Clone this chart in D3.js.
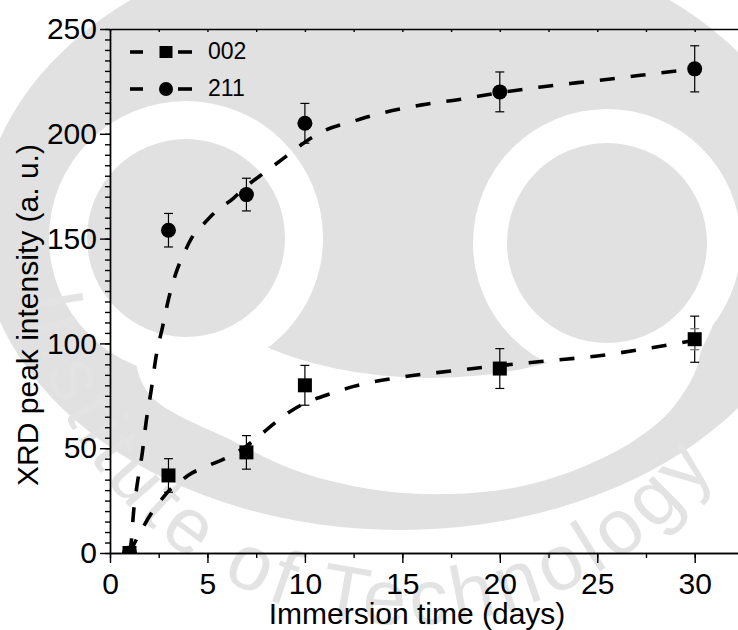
<!DOCTYPE html>
<html lang="en">
<head>
<meta charset="utf-8">
<title>XRD peak intensity vs immersion time</title>
<script src="https://d3js.org/d3.v7.min.js"></script>
<style>
  body { margin: 0; background: #fff; }
  svg { display: block; font-family: "Liberation Sans", Arial, Helvetica, sans-serif; }
</style>
</head>
<body>
<script>
// measured points
var days = [1, 3, 7, 10, 20, 30];
var peak002 = [0, 37, 48, 80, 88, 102];
var err002 = [0, 8, 8, 9.5, 9.5, 11];
var innerErr002 = [0, 0, 0, 0, 0, 5];
var peak211 = [0, 154, 171, 205, 220, 231];
var err211 = [0, 8, 7.8, 9.5, 9.5, 11];

// fitted (dashed) curves
var fit002x = [1, 1.5, 2.1, 2.6, 3.0, 3.4, 4.0, 5.0, 6.0, 7.0, 8.0, 9.0, 10.0, 11.0, 12.5, 15, 17.5, 20, 22.5, 25, 27.5, 30];
var fit002y = [0, 9, 18.6, 25, 29.5, 32.5, 37, 41.5, 45.5, 51, 58.5, 66, 71.5, 75, 79.5, 84, 86.8, 89.4, 91.7, 94, 97.5, 101.5];
var fit211x = [1, 1.1, 1.2, 1.4, 1.66, 1.86, 2.12, 2.36, 2.7, 3.0, 3.4, 3.8, 4.3, 4.8, 5.5, 6.3, 7.0, 8.0, 9.0, 10.0, 11.0, 12.5, 14, 16, 18, 20, 22, 24, 26, 28, 30];
var fit211y = [0, 6, 18.6, 33, 48, 63, 78, 93.5, 108, 121, 134, 143, 152, 157, 163.5, 169, 175, 182, 189, 196, 201.5, 206, 210, 213.8, 216.5, 219.6, 222.2, 224.4, 226.5, 228.8, 231];

var xTicks = [0, 5, 10, 15, 20, 25, 30];
var yTicks = [0, 50, 100, 150, 200, 250];
var seriesNames = ["002", "211"];

var W = 738, H = 630;
var padLeft = 110, padTop = 29, plotBottom = 553, plotRight = 738;

var svg = d3.select("body").append("svg")
    .attr("width", W)
    .attr("height", H);

// faint watermark logo behind the plot
var wm = svg.append("g").attr("class", "watermark");
var grey = "#e1e1e1";
wm.append("ellipse").attr("cx", 400).attr("cy", 230).attr("rx", 420).attr("ry", 300).attr("fill", grey);
// white crescent under the two rings
wm.append("path")
    .attr("d", d3.line().curve(d3.curveCardinalClosed)([
        [140, 330], [150, 395], [235, 442], [300, 472], [376, 490], [450, 494], [518, 487],
        [580, 468], [635, 440], [675, 405], [700, 355], [690, 300], [430, 290], [200, 290]
    ]))
    .attr("fill", "#fff");
wm.append("ellipse").attr("cx", 430).attr("cy", 250).attr("rx", 250).attr("ry", 128).attr("fill", grey);
wm.append("circle").attr("cx", 186).attr("cy", 238).attr("r", 137).attr("fill", "#fff");
wm.append("circle").attr("cx", 607).attr("cy", 243).attr("r", 134).attr("fill", "#fff");
wm.append("circle").attr("cx", 186).attr("cy", 238).attr("r", 99).attr("fill", grey);
wm.append("circle").attr("cx", 607).attr("cy", 243).attr("r", 100).attr("fill", grey);
wm.append("path").attr("id", "wmArc")
    .attr("d", "M 25 245 A 380 380 0 0 0 785 245")
    .attr("fill", "none");
wm.append("text")
    .attr("font-size", 78)
    .attr("letter-spacing", 6)
    .attr("fill", "#e3e3e3")
    .append("textPath")
    .attr("href", "#wmArc")
    .attr("startOffset", 50)
    .text("Institute of Technology");

var x = d3.scaleLinear().domain([0, (plotRight - padLeft) / 19.49]).range([padLeft, plotRight]);
var y = d3.scaleLinear().domain([0, 250]).range([plotBottom, padTop]);

// axes
svg.append("g")
    .attr("transform", "translate(" + padLeft + ",0)")
    .call(d3.axisLeft(y).tickValues(d3.range(0, 251, 5)).tickSize(5).tickSizeOuter(0).tickFormat(""));
svg.append("g")
    .attr("transform", "translate(" + padLeft + ",0)")
    .call(d3.axisLeft(y).tickValues(yTicks).tickSize(10).tickSizeOuter(0).tickPadding(3));

svg.append("g")
    .attr("transform", "translate(0," + plotBottom + ")")
    .call(d3.axisBottom(x).tickValues(d3.range(0, 32.5, 2.5)).tickSize(5).tickSizeOuter(0).tickFormat(""));
svg.append("g")
    .attr("transform", "translate(0," + plotBottom + ")")
    .call(d3.axisBottom(x).tickValues(xTicks).tickSize(10).tickSizeOuter(0).tickPadding(10));

svg.append("g")
    .attr("transform", "translate(0," + padTop + ")")
    .call(d3.axisBottom(x).tickValues(d3.range(0, 32.5, 2.5)).tickSize(3).tickSizeOuter(0).tickFormat(""));

svg.selectAll(".domain, .tick line").attr("stroke", "#000").attr("stroke-width", 1.4);
svg.selectAll(".tick text").attr("font-size", 30).attr("fill", "#000")
    .attr("font-family", "'Liberation Sans', Arial, sans-serif");

// axis titles
svg.append("text")
    .attr("x", 417).attr("y", 624)
    .attr("text-anchor", "middle")
    .attr("font-size", 30)
    .text("Immersion time (days)");
svg.append("text")
    .attr("transform", "translate(38,315) rotate(-90)")
    .attr("text-anchor", "middle")
    .attr("font-size", 30)
    .text("XRD peak intensity (a. u.)");

// plot contents, clipped to the frame
svg.append("clipPath").attr("id", "plotClip")
    .append("rect").attr("x", padLeft).attr("y", padTop)
    .attr("width", plotRight - padLeft).attr("height", plotBottom - padTop);
var plot = svg.append("g").attr("clip-path", "url(#plotClip)");

var line = d3.line()
    .x(function(d) { return x(d[0]); })
    .y(function(d) { return y(d[1]); })
    .curve(d3.curveMonotoneX);

function drawFit(xs, ys) {
    plot.append("path")
        .datum(d3.zip(xs, ys))
        .attr("d", line)
        .attr("fill", "none")
        .attr("stroke", "#000")
        .attr("stroke-width", 3.6)
        .attr("stroke-dasharray", "15,16");
}
drawFit(fit211x, fit211y);
drawFit(fit002x, fit002y);

function drawErrors(vals, errs, colour) {
    var pts = d3.zip(days, vals, errs).filter(function(d) { return d[2] > 0; });
    var g = plot.append("g").attr("stroke", colour).attr("stroke-width", 1.2);
    g.selectAll("line.v").data(pts).enter().append("line")
        .attr("x1", function(d) { return x(d[0]); })
        .attr("x2", function(d) { return x(d[0]); })
        .attr("y1", function(d) { return y(d[1] - d[2]); })
        .attr("y2", function(d) { return y(d[1] + d[2]); });
    [-1, 1].forEach(function(s) {
        g.selectAll("line.c" + (s + 1)).data(pts).enter().append("line")
            .attr("x1", function(d) { return x(d[0]) - 4.5; })
            .attr("x2", function(d) { return x(d[0]) + 4.5; })
            .attr("y1", function(d) { return y(d[1] + s * d[2]); })
            .attr("y2", function(d) { return y(d[1] + s * d[2]); });
    });
}
drawErrors(peak211, err211, "#000");
drawErrors(peak002, err002, "#000");
drawErrors(peak002, innerErr002, "#777");

plot.selectAll("circle.p211").data(d3.zip(days, peak211)).enter().append("circle")
    .attr("cx", function(d) { return x(d[0]); })
    .attr("cy", function(d) { return y(d[1]); })
    .attr("r", 7.5)
    .attr("fill", "#000");

plot.selectAll("rect.p002").data(d3.zip(days, peak002)).enter().append("rect")
    .attr("x", function(d) { return x(d[0]) - 7; })
    .attr("y", function(d) { return y(d[1]) - 7; })
    .attr("width", 14)
    .attr("height", 14)
    .attr("fill", "#000");

// legend
var legend = svg.append("g");
seriesNames.forEach(function(name, i) {
    var ly = 52 + i * 37;
    [[130, 143], [178, 192]].forEach(function(seg) {
        legend.append("line")
            .attr("x1", seg[0]).attr("x2", seg[1])
            .attr("y1", ly).attr("y2", ly)
            .attr("stroke", "#000").attr("stroke-width", 3.6);
    });
    if (i === 0) {
        legend.append("rect").attr("x", 159.5).attr("y", ly - 6).attr("width", 13).attr("height", 12).attr("fill", "#000");
    } else {
        legend.append("circle").attr("cx", 166).attr("cy", ly).attr("r", 7).attr("fill", "#000");
    }
    legend.append("text")
        .attr("x", 208).attr("y", ly + 7)
        .attr("font-size", 23)
        .text(name);
});
</script>
</body>
</html>
